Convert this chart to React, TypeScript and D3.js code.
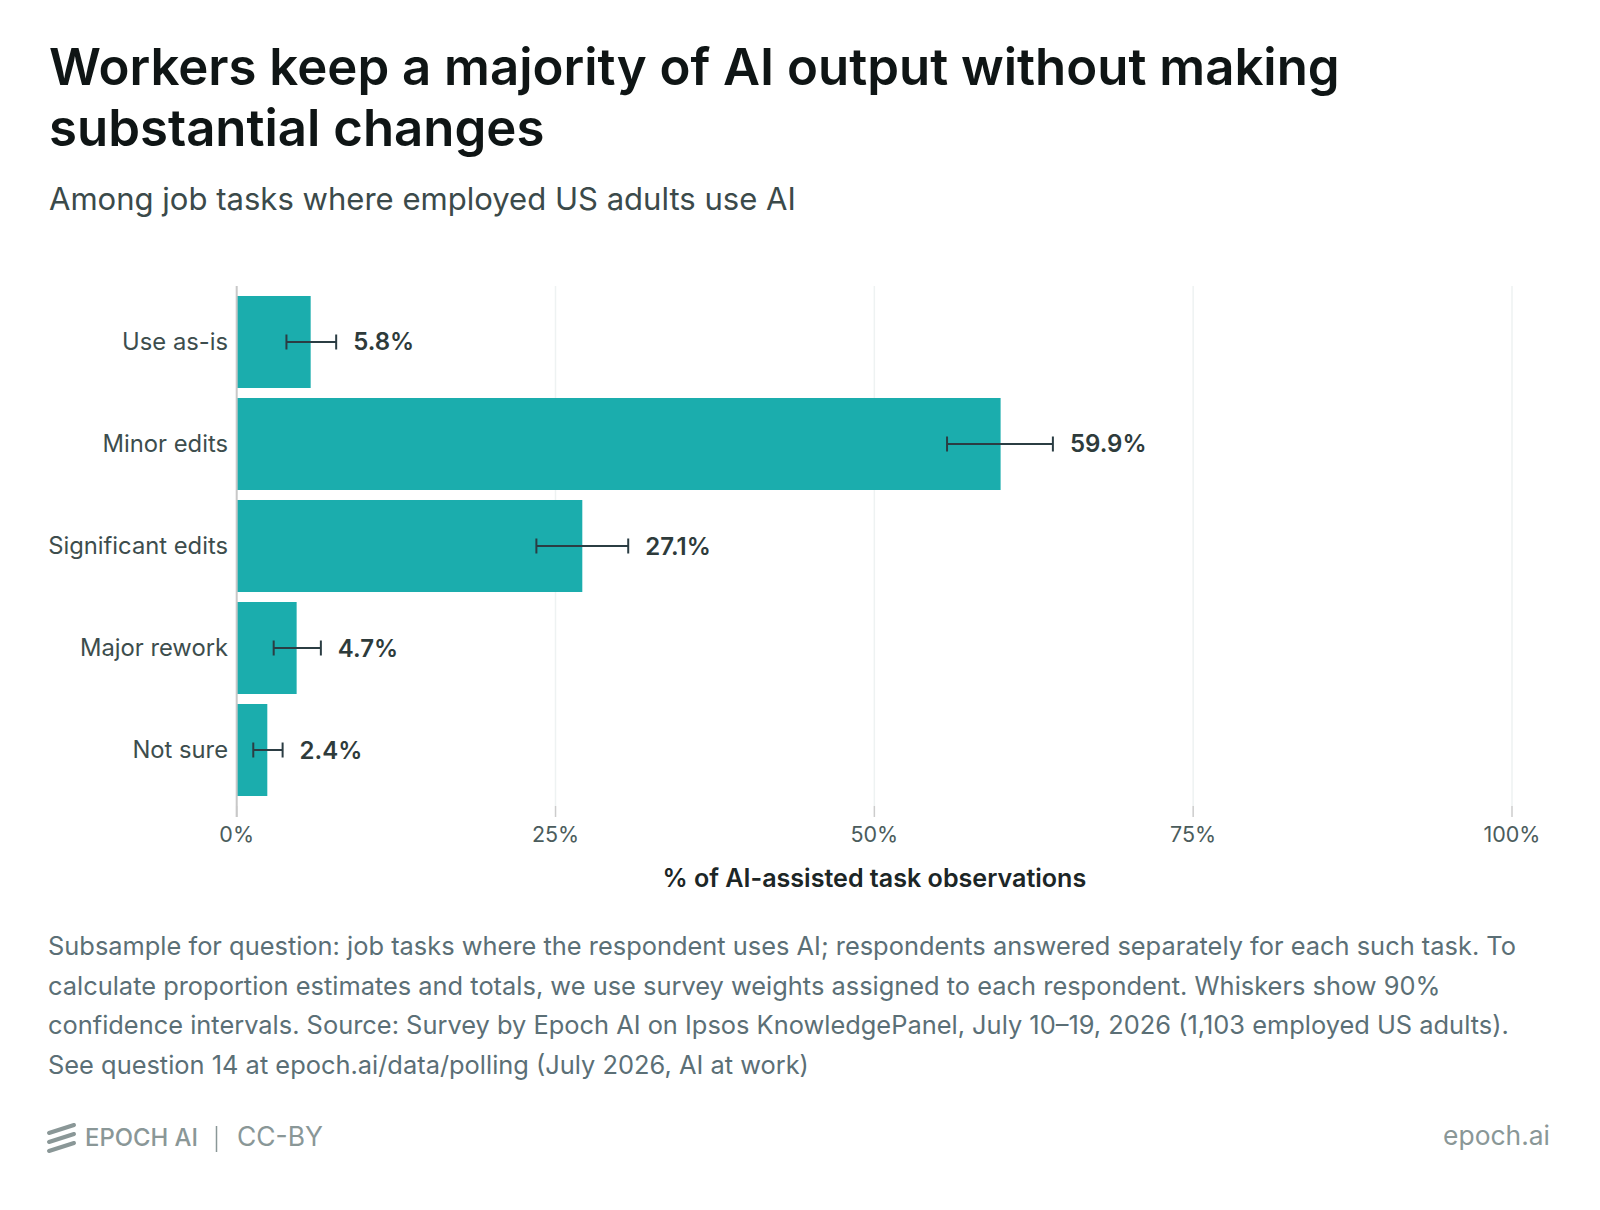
import React, { useEffect, useRef } from "react";
import * as d3 from "d3";

const categories = ["Use as-is", "Minor edits", "Significant edits", "Major rework", "Not sure"];
const values = [5.8, 59.9, 27.1, 4.7, 2.4];
const ciLow = [3.9, 55.7, 23.5, 2.9, 1.3];
const ciHigh = [7.8, 64.0, 30.7, 6.6, 3.6];
const xTicks = [0, 25, 50, 75, 100];

const titleLines = ["Workers keep a majority of AI output without making", "substantial changes"];
const subtitle = "Among job tasks where employed US adults use AI";
const xAxisTitle = "% of AI-assisted task observations";
const noteLines = [
  "Subsample for question: job tasks where the respondent uses AI; respondents answered separately for each such task. To",
  "calculate proportion estimates and totals, we use survey weights assigned to each respondent. Whiskers show 90%",
  "confidence intervals. Source: Survey by Epoch AI on Ipsos KnowledgePanel, July 10–19, 2026 (1,103 employed US adults).",
  "See question 14 at epoch.ai/data/polling (July 2026, AI at work)",
];

const W = 1600;
const H = 1210;
const FONT = "Inter, 'Noto Sans', sans-serif";

export default function App() {
  const ref = useRef<SVGSVGElement | null>(null);

  useEffect(() => {
    const svg = d3.select(ref.current);
    svg.selectAll("*").remove();

    const x = d3.scaleLinear().domain([0, 100]).range([236.7, 1512]);
    const y = d3.scaleBand<string>().domain(categories).range([286, 806]).paddingInner(0.098).paddingOuter(0.098);

    const fit = (sel: any, target: number, base: number) => {
      const node = sel.node();
      if (!node) return base;
      const w = node.getComputedTextLength();
      const f = w > 0 ? (base * target) / w : base;
      sel.attr("font-size", f);
      return f;
    };

    // Title
    const t1 = svg.append("text").attr("x", 49).attr("y", 85).attr("font-family", FONT).attr("font-weight", 600)
      .attr("font-size", 46).attr("fill", "#0f1515").text(titleLines[0]);
    const fs = fit(t1, 1291, 46);
    svg.append("text").attr("x", 49).attr("y", 146).attr("font-family", FONT).attr("font-weight", 600)
      .attr("font-size", fs).attr("fill", "#0f1515").text(titleLines[1]);

    const st = svg.append("text").attr("x", 49).attr("y", 210).attr("font-family", FONT).attr("font-weight", 400)
      .attr("font-size", 29).attr("fill", "#3b4a4a").text(subtitle);
    fit(st, 747, 29);

    // Gridlines
    const g = svg.append("g");
    g.selectAll("line.grid").data(xTicks.filter((d) => d > 0)).join("line")
      .attr("x1", (d) => x(d)).attr("x2", (d) => x(d)).attr("y1", 286).attr("y2", 806)
      .attr("stroke", "#eef2f2").attr("stroke-width", 1.5);
    g.selectAll("line.tick").data(xTicks).join("line")
      .attr("x1", (d) => x(d)).attr("x2", (d) => x(d)).attr("y1", 806).attr("y2", 817)
      .attr("stroke", "#cccccc").attr("stroke-width", 1.5);

    // Bars
    g.selectAll("rect.bar").data(categories).join("rect")
      .attr("x", x(0)).attr("y", (d) => y(d)!)
      .attr("width", (_d, i) => x(values[i]) - x(0)).attr("height", y.bandwidth())
      .attr("fill", "#1badad");

    // Axis line
    g.append("line").attr("x1", x(0)).attr("x2", x(0)).attr("y1", 286).attr("y2", 817)
      .attr("stroke", "#c8c8c8").attr("stroke-width", 2);

    // Error bars
    const cy = (d: string) => y(d)! + y.bandwidth() / 2;
    const eb = g.selectAll("g.eb").data(categories).join("g");
    eb.append("line").attr("x1", (_d, i) => x(ciLow[i])).attr("x2", (_d, i) => x(ciHigh[i]))
      .attr("y1", cy).attr("y2", cy).attr("stroke", "#2b3d43").attr("stroke-width", 2);
    eb.append("line").attr("x1", (_d, i) => x(ciLow[i])).attr("x2", (_d, i) => x(ciLow[i]))
      .attr("y1", (d) => cy(d) - 7.5).attr("y2", (d) => cy(d) + 7.5).attr("stroke", "#2b3d43").attr("stroke-width", 2);
    eb.append("line").attr("x1", (_d, i) => x(ciHigh[i])).attr("x2", (_d, i) => x(ciHigh[i]))
      .attr("y1", (d) => cy(d) - 7.5).attr("y2", (d) => cy(d) + 7.5).attr("stroke", "#2b3d43").attr("stroke-width", 2);

    // Value labels
    g.selectAll("text.val").data(categories).join("text")
      .attr("x", (_d, i) => x(ciHigh[i]) + 17).attr("y", (d) => cy(d) + 8.5)
      .attr("font-family", FONT).attr("font-weight", 600).attr("font-size", 24).attr("fill", "#2e3b3b")
      .text((_d, i) => `${values[i].toFixed(1)}%`);

    // Category labels (size matched to the widest label)
    const probe = svg.append("text").attr("font-family", FONT).attr("font-size", 22).text(categories[2]);
    const catFs = fit(probe, 180, 22);
    probe.remove();
    g.selectAll("text.cat").data(categories).join("text")
      .attr("x", 228).attr("y", (d) => cy(d) + 8).attr("text-anchor", "end")
      .attr("font-family", FONT).attr("font-size", catFs).attr("fill", "#3d4d4d").text((d) => d);

    // Tick labels
    g.selectAll("text.tl").data(xTicks).join("text")
      .attr("x", (d) => x(d)).attr("y", 842).attr("text-anchor", "middle")
      .attr("font-family", FONT).attr("font-size", 21.5).attr("fill", "#4b5c5c").text((d) => `${d}%`);

    const at = svg.append("text").attr("x", (x(0) + x(100)) / 2).attr("y", 887).attr("text-anchor", "middle")
      .attr("font-family", FONT).attr("font-weight", 600).attr("font-size", 23).attr("fill", "#1c2626").text(xAxisTitle);
    fit(at, 424, 23);

    // Notes
    const noteTargets = [1469, 1395, 1453, 764];
    const n0 = svg.append("text").attr("x", 48).attr("y", 955).attr("font-family", FONT).attr("font-size", 23)
      .attr("fill", "#5b6f76").text(noteLines[0]);
    const noteFs = fit(n0, noteTargets[0], 23);
    noteLines.slice(1).forEach((line, i) => {
      svg.append("text").attr("x", 48).attr("y", 955 + 39.5 * (i + 1)).attr("font-family", FONT)
        .attr("font-size", noteFs).attr("fill", "#5b6f76").text(line);
    });

    // Footer
    const fg = "#8a9797";
    const logo = svg.append("g");
    [1129, 1138, 1147].forEach((yy) => {
      logo.append("line").attr("x1", 49).attr("y1", yy + 4).attr("x2", 74).attr("y2", yy - 4)
        .attr("stroke", fg).attr("stroke-width", 4).attr("stroke-linecap", "round");
    });
    const ep = svg.append("text").attr("x", 85).attr("y", 1146).attr("font-family", FONT).attr("font-weight", 500)
      .attr("font-size", 23).attr("fill", fg).text("EPOCH AI");
    fit(ep, 113, 23);
    svg.append("line").attr("x1", 216.5).attr("x2", 216.5).attr("y1", 1126).attr("y2", 1152)
      .attr("stroke", fg).attr("stroke-width", 1.5);
    const cc = svg.append("text").attr("x", 237).attr("y", 1146).attr("font-family", FONT)
      .attr("font-size", 24).attr("fill", fg).text("CC-BY");
    fit(cc, 86, 24);
    const site = svg.append("text").attr("x", 1550).attr("y", 1145).attr("text-anchor", "end").attr("font-family", FONT)
      .attr("font-size", 25).attr("fill", fg).text("epoch.ai");
    fit(site, 107, 25);
  }, []);

  return (
    <div style={{ position: "absolute", left: 0, top: 0, width: W, height: H, background: "#fff" }}>
      <svg ref={ref} width={W} height={H} viewBox={`0 0 ${W} ${H}`} />
    </div>
  );
}
